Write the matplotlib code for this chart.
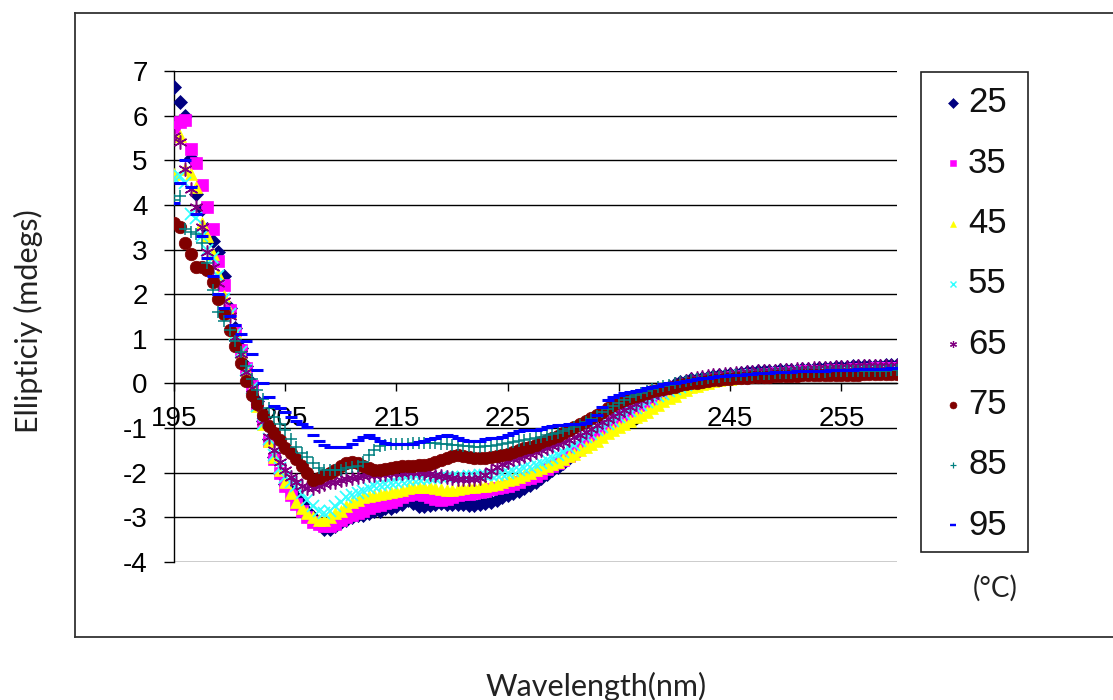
import numpy as np
import matplotlib
matplotlib.use("Agg")
import matplotlib.pyplot as plt
from matplotlib.lines import Line2D
from matplotlib.patches import Rectangle

# Wavelength grid (nm), 0.5 nm steps
wavelength = np.arange(195.0, 260.01, 0.5)

# CD ellipticity (mdeg) at each temperature, one value per wavelength
cd_25 = [
    6.65, 6.30, 6.00, 5.05, 4.25, 3.90, 3.45, 3.20, 2.95, 2.40,
    1.70, 1.25, 0.80, 0.40, 0.00, -0.40, -0.85, -1.25, -1.65, -2.00,
    -2.25, -2.40, -2.55, -2.70, -2.85, -3.00, -3.15, -3.25, -3.25, -3.20,
    -3.10, -3.05, -3.00, -2.95, -2.95, -2.90, -2.85, -2.85, -2.80, -2.80,
    -2.75, -2.70, -2.62, -2.68, -2.75, -2.75, -2.72, -2.70, -2.68, -2.70,
    -2.70, -2.70, -2.70, -2.72, -2.72, -2.70, -2.68, -2.65, -2.60, -2.55,
    -2.50, -2.45, -2.40, -2.35, -2.28, -2.20, -2.12, -2.03, -1.95, -1.87,
    -1.78, -1.68, -1.57, -1.46, -1.35, -1.24, -1.13, -1.02, -0.92, -0.82,
    -0.72, -0.63, -0.55, -0.47, -0.40, -0.33, -0.26, -0.20, -0.14, -0.08,
    -0.02, 0.03, 0.06, 0.09, 0.11, 0.13, 0.15, 0.17, 0.18, 0.20,
    0.21, 0.22, 0.24, 0.25, 0.26, 0.27, 0.27, 0.28, 0.29, 0.30,
    0.30, 0.31, 0.31, 0.32, 0.33, 0.33, 0.34, 0.35, 0.35, 0.36,
    0.36, 0.37, 0.38, 0.38, 0.39, 0.39, 0.40, 0.40, 0.41, 0.42,
    0.42,
]
cd_35 = [
    5.75, 5.85, 5.90, 5.25, 4.95, 4.45, 3.95, 3.45, 2.75, 2.20,
    1.65, 1.20, 0.75, 0.35, -0.05, -0.45, -0.85, -1.30, -1.70, -2.00,
    -2.30, -2.50, -2.70, -2.85, -3.00, -3.10, -3.15, -3.20, -3.20, -3.15,
    -3.05, -3.00, -2.95, -2.90, -2.85, -2.80, -2.75, -2.72, -2.68, -2.65,
    -2.60, -2.55, -2.50, -2.45, -2.47, -2.50, -2.55, -2.58, -2.60, -2.58,
    -2.55, -2.50, -2.48, -2.47, -2.45, -2.43, -2.40, -2.37, -2.34, -2.32,
    -2.30, -2.25, -2.20, -2.15, -2.12, -2.08, -2.00, -1.92, -1.85, -1.78,
    -1.72, -1.62, -1.52, -1.42, -1.33, -1.25, -1.17, -1.05, -0.95, -0.86,
    -0.78, -0.70, -0.62, -0.55, -0.48, -0.42, -0.36, -0.31, -0.27, -0.22,
    -0.18, -0.13, -0.08, -0.04, 0.00, 0.03, 0.06, 0.08, 0.10, 0.12,
    0.14, 0.15, 0.17, 0.18, 0.19, 0.20, 0.21, 0.22, 0.23, 0.24,
    0.24, 0.25, 0.26, 0.27, 0.27, 0.28, 0.29, 0.29, 0.30, 0.30,
    0.31, 0.31, 0.32, 0.32, 0.33, 0.33, 0.34, 0.34, 0.34, 0.35,
    0.35,
]
cd_45 = [
    4.70, 5.55, 4.80, 4.70, 4.40, 3.60, 3.30, 2.90, 2.45, 1.95,
    1.60, 1.15, 0.70, 0.30, -0.10, -0.50, -0.90, -1.30, -1.65, -1.95,
    -2.20, -2.45, -2.65, -2.80, -2.90, -3.00, -3.05, -3.05, -3.00, -2.90,
    -2.85, -2.75, -2.65, -2.60, -2.55, -2.52, -2.50, -2.47, -2.45, -2.43,
    -2.40, -2.38, -2.35, -2.33, -2.32, -2.32, -2.33, -2.35, -2.37, -2.38,
    -2.38, -2.37, -2.35, -2.33, -2.32, -2.30, -2.30, -2.28, -2.25, -2.20,
    -2.17, -2.14, -2.10, -2.05, -2.00, -1.95, -1.90, -1.85, -1.80, -1.75,
    -1.70, -1.63, -1.57, -1.50, -1.43, -1.36, -1.28, -1.20, -1.12, -1.05,
    -0.98, -0.90, -0.83, -0.76, -0.70, -0.63, -0.55, -0.48, -0.40, -0.33,
    -0.27, -0.20, -0.14, -0.09, -0.05, -0.01, 0.02, 0.05, 0.07, 0.09,
    0.11, 0.12, 0.14, 0.15, 0.16, 0.17, 0.18, 0.19, 0.19, 0.20,
    0.20, 0.21, 0.21, 0.22, 0.22, 0.23, 0.23, 0.24, 0.24, 0.24,
    0.25, 0.25, 0.25, 0.26, 0.26, 0.26, 0.27, 0.27, 0.27, 0.28,
    0.28,
]
cd_55 = [
    4.60, 4.65, 4.50, 3.80, 3.70, 3.30, 3.00, 2.80, 2.40, 1.90,
    1.55, 1.10, 0.70, 0.30, -0.10, -0.50, -0.90, -1.25, -1.60, -1.90,
    -2.10, -2.20, -2.30, -2.45, -2.60, -2.75, -2.85, -2.90, -2.85, -2.75,
    -2.65, -2.55, -2.50, -2.45, -2.40, -2.35, -2.30, -2.27, -2.25, -2.22,
    -2.20, -2.18, -2.16, -2.15, -2.13, -2.12, -2.12, -2.12, -2.10, -2.10,
    -2.10, -2.10, -2.10, -2.08, -2.07, -2.06, -2.05, -2.05, -2.04, -2.02,
    -2.00, -1.97, -1.94, -1.90, -1.87, -1.83, -1.78, -1.72, -1.67, -1.60,
    -1.53, -1.45, -1.37, -1.29, -1.21, -1.13, -1.05, -0.97, -0.90, -0.83,
    -0.76, -0.69, -0.62, -0.55, -0.48, -0.41, -0.35, -0.29, -0.23, -0.17,
    -0.12, -0.07, -0.03, 0.01, 0.04, 0.07, 0.09, 0.11, 0.13, 0.15,
    0.16, 0.17, 0.18, 0.19, 0.20, 0.21, 0.22, 0.22, 0.23, 0.24,
    0.24, 0.25, 0.25, 0.26, 0.26, 0.27, 0.27, 0.27, 0.28, 0.28,
    0.28, 0.29, 0.29, 0.29, 0.30, 0.30, 0.30, 0.31, 0.31, 0.31,
    0.31,
]
cd_65 = [
    5.55, 5.40, 4.80, 4.35, 3.95, 3.50, 2.95, 2.60, 2.25, 1.85,
    1.50, 1.05, 0.65, 0.25, -0.10, -0.45, -0.85, -1.20, -1.50, -1.75,
    -1.95, -2.10, -2.20, -2.30, -2.35, -2.35, -2.30, -2.25, -2.20, -2.20,
    -2.17, -2.15, -2.12, -2.10, -2.08, -2.06, -2.05, -2.03, -2.02, -2.00,
    -2.00, -2.00, -1.99, -1.98, -1.98, -2.00, -2.02, -2.05, -2.08, -2.10,
    -2.12, -2.14, -2.15, -2.15, -2.15, -2.12, -2.05, -1.97, -1.88, -1.80,
    -1.75, -1.70, -1.66, -1.62, -1.58, -1.54, -1.50, -1.45, -1.40, -1.36,
    -1.32, -1.27, -1.21, -1.15, -1.08, -1.01, -0.94, -0.87, -0.80, -0.73,
    -0.66, -0.59, -0.52, -0.45, -0.38, -0.31, -0.25, -0.19, -0.13, -0.07,
    -0.02, 0.02, 0.06, 0.09, 0.12, 0.14, 0.16, 0.18, 0.19, 0.21,
    0.22, 0.23, 0.24, 0.25, 0.26, 0.27, 0.28, 0.29, 0.29, 0.30,
    0.31, 0.31, 0.32, 0.33, 0.33, 0.34, 0.34, 0.35, 0.35, 0.36,
    0.36, 0.37, 0.37, 0.38, 0.38, 0.38, 0.39, 0.39, 0.40, 0.40,
    0.40,
]
cd_75 = [
    3.60, 3.50, 3.15, 2.90, 2.62, 2.60, 2.55, 2.28, 1.90, 1.55,
    1.20, 0.85, 0.45, 0.05, -0.25, -0.45, -0.70, -0.95, -1.10, -1.27,
    -1.45, -1.56, -1.70, -1.85, -2.00, -2.16, -2.12, -2.05, -2.00, -1.94,
    -1.85, -1.78, -1.76, -1.78, -1.85, -1.90, -1.93, -1.94, -1.92, -1.90,
    -1.88, -1.86, -1.85, -1.84, -1.83, -1.82, -1.80, -1.76, -1.72, -1.68,
    -1.62, -1.60, -1.62, -1.65, -1.67, -1.67, -1.66, -1.65, -1.62, -1.60,
    -1.57, -1.53, -1.49, -1.45, -1.42, -1.37, -1.32, -1.27, -1.22, -1.17,
    -1.10, -1.05, -0.98, -0.90, -0.84, -0.78, -0.70, -0.63, -0.56, -0.48,
    -0.42, -0.37, -0.32, -0.28, -0.25, -0.22, -0.18, -0.15, -0.12, -0.10,
    -0.07, -0.04, -0.02, 0.00, 0.02, 0.04, 0.06, 0.07, 0.08, 0.10,
    0.11, 0.12, 0.12, 0.13, 0.14, 0.14, 0.15, 0.15, 0.16, 0.16,
    0.17, 0.17, 0.17, 0.18, 0.18, 0.18, 0.19, 0.19, 0.19, 0.19,
    0.20, 0.20, 0.20, 0.20, 0.21, 0.21, 0.21, 0.21, 0.22, 0.22,
    0.22,
]
cd_85 = [
    4.10, 4.20, 3.45, 3.40, 3.35, 3.15, 2.70, 2.10, 1.60, 1.40,
    1.20, 0.95, 0.70, 0.40, 0.10, -0.15, -0.35, -0.55, -0.75, -0.90,
    -1.05, -1.25, -1.42, -1.55, -1.65, -1.78, -1.90, -1.93, -1.95, -1.95,
    -1.93, -1.90, -1.88, -1.85, -1.75, -1.60, -1.48, -1.40, -1.37, -1.36,
    -1.35, -1.35, -1.35, -1.34, -1.34, -1.33, -1.33, -1.34, -1.35, -1.36,
    -1.37, -1.38, -1.40, -1.41, -1.42, -1.42, -1.41, -1.40, -1.38, -1.36,
    -1.34, -1.32, -1.30, -1.27, -1.25, -1.22, -1.19, -1.16, -1.13, -1.10,
    -1.07, -1.03, -0.98, -0.93, -0.87, -0.80, -0.73, -0.65, -0.57, -0.50,
    -0.43, -0.37, -0.31, -0.26, -0.21, -0.17, -0.13, -0.09, -0.06, -0.03,
    0.00, 0.03, 0.05, 0.07, 0.09, 0.11, 0.12, 0.14, 0.15, 0.16,
    0.17, 0.18, 0.19, 0.20, 0.20, 0.21, 0.22, 0.22, 0.23, 0.23,
    0.24, 0.24, 0.25, 0.25, 0.25, 0.26, 0.26, 0.26, 0.27, 0.27,
    0.27, 0.28, 0.28, 0.28, 0.28, 0.29, 0.29, 0.29, 0.29, 0.30,
    0.30,
]
cd_95 = [
    4.05, 4.50, 5.00, 4.40, 3.80, 3.30, 2.80, 2.40, 2.00, 1.70,
    1.50, 1.30, 1.10, 0.95, 0.65, 0.30, 0.00, -0.30, -0.50, -0.55,
    -0.65, -0.75, -0.85, -0.90, -0.97, -1.15, -1.30, -1.38, -1.42, -1.42,
    -1.42, -1.42, -1.35, -1.27, -1.20, -1.15, -1.22, -1.30, -1.33, -1.35,
    -1.35, -1.35, -1.35, -1.35, -1.32, -1.28, -1.25, -1.22, -1.18, -1.15,
    -1.18, -1.22, -1.26, -1.30, -1.30, -1.28, -1.25, -1.22, -1.22, -1.20,
    -1.15, -1.10, -1.07, -1.05, -1.05, -1.05, -1.02, -0.98, -0.95, -0.93,
    -0.92, -0.90, -0.90, -0.90, -0.88, -0.82, -0.70, -0.52, -0.38, -0.30,
    -0.25, -0.22, -0.20, -0.17, -0.14, -0.11, -0.08, -0.05, -0.02, 0.00,
    0.02, 0.04, 0.06, 0.08, 0.10, 0.12, 0.13, 0.15, 0.16, 0.17,
    0.18, 0.19, 0.20, 0.21, 0.22, 0.23, 0.23, 0.24, 0.25, 0.25,
    0.26, 0.26, 0.27, 0.27, 0.28, 0.28, 0.29, 0.29, 0.30, 0.30,
    0.30, 0.31, 0.31, 0.32, 0.32, 0.32, 0.33, 0.33, 0.33, 0.34,
    0.34,
]

temperatures = ["25", "35", "45", "55", "65", "75", "85", "95"]
series = [cd_25, cd_35, cd_45, cd_55, cd_65, cd_75, cd_85, cd_95]
colors = ["#000080", "#FF00FF", "#FFFF00", "#33FFFF",
          "#800080", "#800000", "#008080", "#0000FF"]
markers = ["D", "s", "^", "x", (6, 2, 0), "o", "+", "_"]
sizes = [7, 8, 8, 8, 10, 9, 8, 9]
edge_w = [0.5, 0.5, 0.5, 1.3, 1.1, 0.5, 1.1, 2.2]

x_ticks = [195, 205, 215, 225, 235, 245, 255]
y_ticks = [-4, -3, -2, -1, 0, 1, 2, 3, 4, 5, 6, 7]

W, H = 1113, 700
fig = plt.figure(figsize=(W / 100, H / 100), dpi=100)
fig.patch.set_facecolor("white")

# Chart-area frame (runs off the right edge)
frame_kw = dict(color="#333333", lw=1.3, transform=fig.transFigure)
x0, y_top, y_bot = 75 / W, 1 - 13 / H, 1 - 637 / H
fig.add_artist(Line2D([x0, 1.01], [y_top, y_top], **frame_kw))
fig.add_artist(Line2D([x0, 1.01], [y_bot, y_bot], **frame_kw))
fig.add_artist(Line2D([x0, x0], [y_bot, y_top], **frame_kw))

ax = fig.add_axes([174 / W, 1 - 562 / H, (897 - 174) / W, (562 - 71) / H])
ax.set_xlim(195, 260)
ax.set_ylim(-4, 7)
ax.set_axisbelow(True)

for vals, c, m, ms, ew in zip(series, colors, markers, sizes, edge_w):
    filled = m not in ("x", "+", "_") and not isinstance(m, tuple)
    ax.plot(wavelength, vals, linestyle="none", marker=m, markersize=ms,
            color=c, markeredgecolor=c, markeredgewidth=ew,
            markerfacecolor=c if filled else "none", zorder=3)

# Horizontal gridlines
ax.set_yticks(y_ticks)
ax.yaxis.grid(True, color="black", lw=1.0)
ax.xaxis.grid(False)

for s in ("top", "right"):
    ax.spines[s].set_visible(False)
ax.spines["left"].set_linewidth(1.0)
ax.spines["bottom"].set_position(("data", 0))
ax.spines["bottom"].set_linewidth(1.0)

tick_font = dict(family="Liberation Sans", size=20)
ax.set_xticks(x_ticks)
ax.set_xticklabels([str(t) for t in x_ticks], **tick_font)
ax.set_yticklabels([str(t) for t in y_ticks], **tick_font)
ax.tick_params(axis="x", direction="out", length=6, width=1.0, pad=10)
ax.tick_params(axis="y", direction="out", length=7, width=1.0, pad=12)

# Axis titles
label_font = dict(family="Lato", size=22, color="#222222")
fig.text(596 / W, 1 - 686 / H, "Wavelength(nm)", ha="center", va="center",
         **label_font)
fig.text(28 / W, 1 - 321 / H, "Ellipticiy (mdegs)", ha="center", va="center",
         rotation=90, **label_font)

# Legend box with temperature entries
lx0, lx1, ly0, ly1 = 921, 1028, 72, 552
fig.add_artist(Rectangle((lx0 / W, 1 - ly1 / H), (lx1 - lx0) / W,
                         (ly1 - ly0) / H, transform=fig.transFigure,
                         fill=False, edgecolor="#222222", lw=1.2))
for i, (lab, c, m, ew) in enumerate(zip(temperatures, colors, markers, edge_w)):
    yy = 1 - (103 + i * 60.3) / H
    filled = m not in ("x", "+", "_") and not isinstance(m, tuple)
    fig.add_artist(Line2D([953 / W], [yy], transform=fig.transFigure,
                          linestyle="none", marker=m, markersize=5,
                          color=c, markeredgecolor=c, markeredgewidth=ew * 0.8,
                          markerfacecolor=c if filled else "none"))
    fig.text(968 / W, yy, lab, ha="left", va="center",
             family="Liberation Sans", size=25, color="#111111")

fig.text(995 / W, 1 - 588 / H, "(\u00b0C)", ha="center", va="center",
         family="Lato", size=20, color="#222222")

fig.savefig("out.png", dpi=100)
